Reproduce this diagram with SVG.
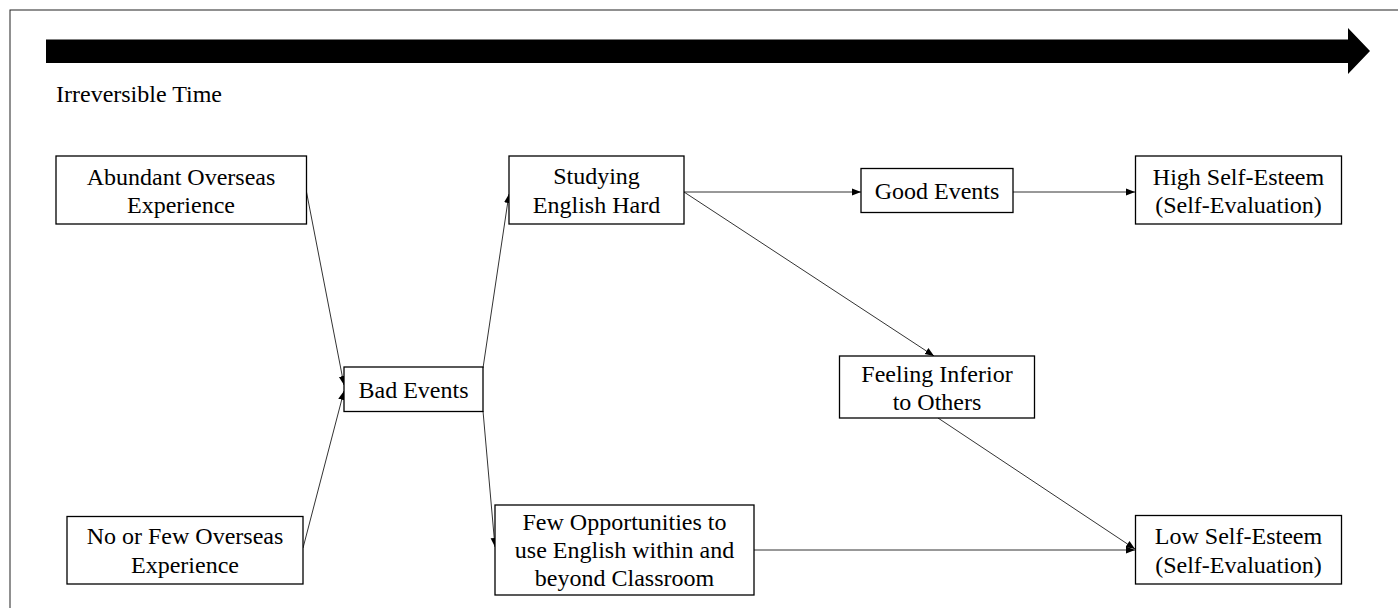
<svg xmlns="http://www.w3.org/2000/svg" width="1398" height="608" viewBox="0 0 1398 608">
<style>
.box{fill:#fff;stroke:#000;stroke-width:1.3}
.t{font-family:'Liberation Serif','Times New Roman',Tinos,'DejaVu Serif',serif;font-size:24px;fill:#000;text-anchor:middle}
.c{fill:none;stroke:#333;stroke-width:1;marker-end:url(#ah)}
</style>
<defs>
<marker id="ah" viewBox="0 0 10 10" refX="10" refY="5" markerWidth="9" markerHeight="9" markerUnits="userSpaceOnUse" orient="auto">
<path d="M0,1 L10,5 L0,9 Z" fill="#000"/>
</marker>
</defs>
<rect width="1398" height="608" fill="#fff"/>
<rect x="10" y="10" width="1400" height="610" fill="none" stroke="#222" stroke-width="1"/>
<g id="time-arrow">
<path d="M46,39.5 H1348 V28 L1370,51 L1348,74 V63 H46 Z" fill="#000"/>
<text x="56" y="102" class="t" text-anchor="start" style="text-anchor:start">Irreversible Time</text>
</g>
<g id="connectors">
<line class="c" x1="306.5" y1="192" x2="344" y2="385"/>
<line class="c" x1="303" y1="548" x2="344" y2="391"/>
<line class="c" x1="483" y1="368" x2="509" y2="194"/>
<line class="c" x1="483" y1="411" x2="495" y2="547"/>
<line class="c" x1="684" y1="192" x2="861" y2="192"/>
<line class="c" x1="684" y1="192" x2="934" y2="356"/>
<line class="c" x1="1013" y1="192" x2="1135" y2="192"/>
<line class="c" x1="938" y1="418" x2="1135" y2="549"/>
<line class="c" x1="754" y1="550" x2="1135" y2="550"/>
</g>
<g id="abundant">
<rect class="box" x="56" y="156" width="250.5" height="68"/>
<text class="t" x="181" y="185">Abundant Overseas</text>
<text class="t" x="181" y="213">Experience</text>
</g>
<g id="nofew">
<rect class="box" x="67" y="516.5" width="236" height="67.5"/>
<text class="t" x="185" y="544">No or Few Overseas</text>
<text class="t" x="185" y="573">Experience</text>
</g>
<g id="bad">
<rect class="box" x="344" y="367" width="139" height="44.5"/>
<text class="t" x="413.5" y="398">Bad Events</text>
</g>
<g id="studying">
<rect class="box" x="509" y="156" width="175" height="68"/>
<text class="t" x="596.5" y="184">Studying</text>
<text class="t" x="596.5" y="213">English Hard</text>
</g>
<g id="fewopp">
<rect class="box" x="495" y="505" width="259" height="90"/>
<text class="t" x="624.5" y="529.5">Few Opportunities to</text>
<text class="t" x="624.5" y="558">use English within and</text>
<text class="t" x="624.5" y="586">beyond Classroom</text>
</g>
<g id="good">
<rect class="box" x="861" y="168.5" width="152" height="44"/>
<text class="t" x="937" y="199">Good Events</text>
</g>
<g id="inferior">
<rect class="box" x="839.5" y="356" width="195" height="62"/>
<text class="t" x="937" y="382">Feeling Inferior</text>
<text class="t" x="937" y="410">to Others</text>
</g>
<g id="high">
<rect class="box" x="1135.5" y="156" width="206" height="68"/>
<text class="t" x="1238.5" y="185">High Self-Esteem</text>
<text class="t" x="1238.5" y="213">(Self-Evaluation)</text>
</g>
<g id="low">
<rect class="box" x="1135.5" y="515.5" width="206" height="68.5"/>
<text class="t" x="1238.5" y="544">Low Self-Esteem</text>
<text class="t" x="1238.5" y="573">(Self-Evaluation)</text>
</g>
</svg>
